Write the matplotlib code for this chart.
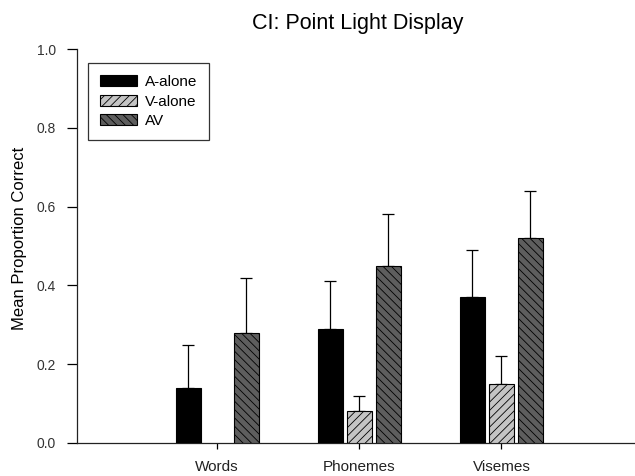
import matplotlib
import numpy as np

matplotlib.use("Agg")

import matplotlib.pyplot as plt

plt.rcParams["font.family"] = ["Liberation Sans", "DejaVu Sans"]
plt.rcParams["hatch.linewidth"] = 0.6

# Values
categories = ["Words", "Phonemes", "Visemes"]
series_names = ["A-alone", "V-alone", "AV"]
means = {
    "A-alone": [0.14, 0.29, 0.37],
    "V-alone": [np.nan, 0.08, 0.15],
    "AV": [0.28, 0.45, 0.52],
}
errors = {
    "A-alone": [0.11, 0.12, 0.12],
    "V-alone": [np.nan, 0.04, 0.07],
    "AV": [0.14, 0.13, 0.12],
}

styles = {
    "A-alone": dict(color="black", hatch=None),
    "V-alone": dict(color="#c4c4c4", hatch="////"),
    "AV": dict(color="#5e5e5e", hatch="\\\\\\\\"),
}

fig = plt.figure(figsize=(6.35, 4.76), dpi=100)
ax = fig.add_axes([77 / 635, 1 - 443 / 476, 1 - 77 / 635, (443 - 49) / 476])

x = np.arange(len(categories))
width = 0.176
step = 0.204

for i, name in enumerate(series_names):
    pos = x + (i - 1) * step
    vals = np.array(means[name])
    errs = np.array(errors[name])
    st = styles[name]
    ax.bar(pos, vals, width, color=st["color"], hatch=st["hatch"],
           edgecolor="black", linewidth=0.8, label=name, zorder=3)
    ax.errorbar(pos, vals, yerr=[np.zeros_like(errs), errs], fmt="none",
                ecolor="black", elinewidth=0.9, capsize=4.5, capthick=0.9, zorder=2)

ax.set_xlim(-0.986, 2.94)
ax.set_ylim(0, 1.0)
ax.set_yticks(np.arange(0, 1.01, 0.2))
ax.set_yticklabels([f"{v:.1f}" for v in np.arange(0, 1.01, 0.2)])
ax.set_xticks(x)
ax.set_xticklabels(categories)

for side in ["top", "right"]:
    ax.spines[side].set_visible(False)
for side in ["left", "bottom"]:
    ax.spines[side].set_linewidth(0.9)
    ax.spines[side].set_color("#222222")

ax.tick_params(axis="y", direction="out", length=7, width=0.9, labelsize=10,
               labelcolor="#333333", pad=8)
ax.tick_params(axis="x", direction="out", length=4, width=0.9, labelsize=11,
               labelcolor="#222222", pad=8)

ax.set_ylabel("Mean Proportion Correct", fontsize=12)
ax.yaxis.set_label_coords(-0.089, 0.52)

fig.text(358 / 635, 1 - 23 / 476, "CI: Point Light Display", fontsize=15.5,
         ha="center", va="center")

leg = ax.legend(loc="upper left", bbox_to_anchor=(11 / 558, 1 - 14 / 394),
                frameon=True, fancybox=False, fontsize=11, handlelength=2.4,
                handleheight=0.72, borderpad=0.8, labelspacing=0.35,
                handletextpad=0.5, borderaxespad=0)
leg.get_frame().set_edgecolor("black")
leg.get_frame().set_linewidth(0.9)

fig.savefig("out.png", dpi=100)
